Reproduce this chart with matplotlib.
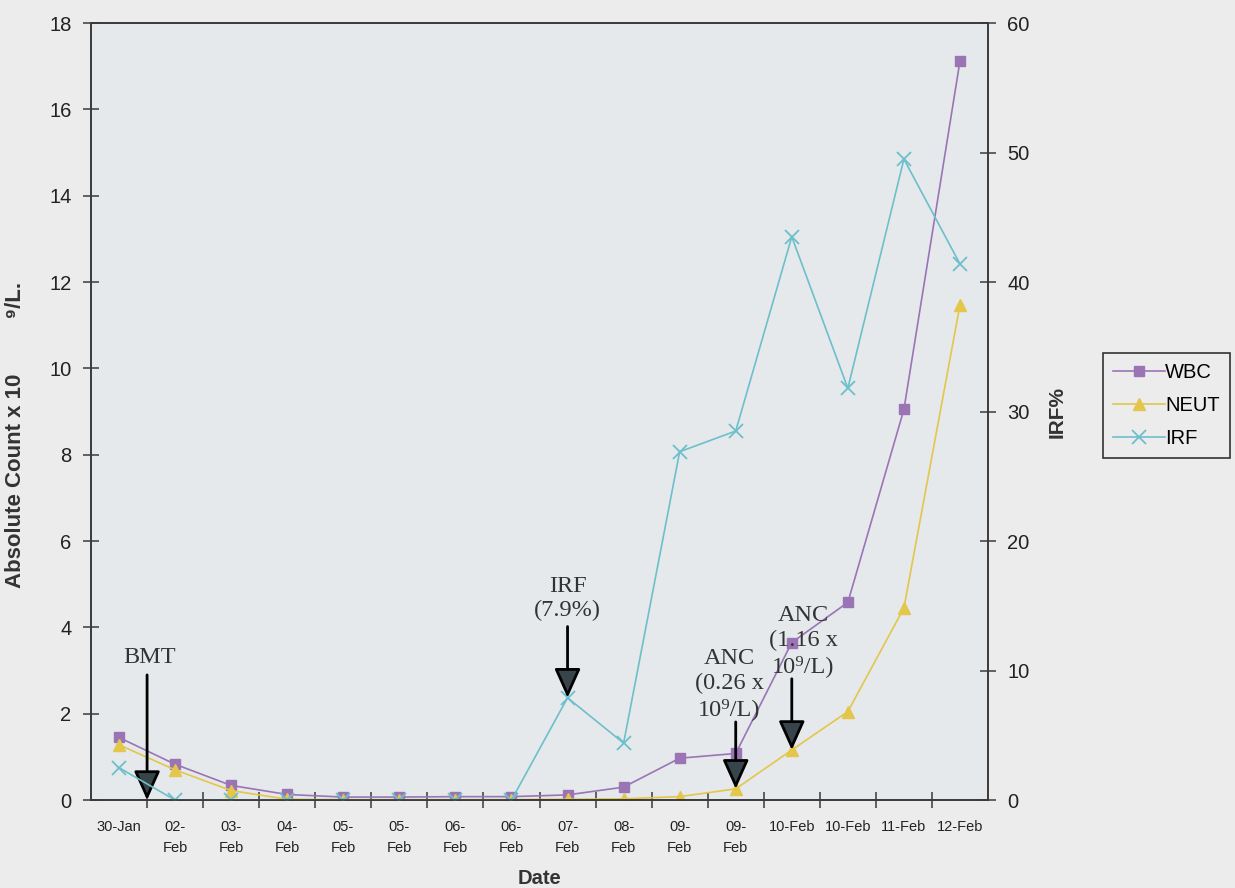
import matplotlib
matplotlib.use("Agg")
import matplotlib.pyplot as plt
import numpy as np

# data
dates = ['30-Jan', '02-\nFeb', '03-\nFeb', '04-\nFeb', '05-\nFeb', '05-\nFeb',
         '06-\nFeb', '06-\nFeb', '07-\nFeb', '08-\nFeb', '09-\nFeb', '09-\nFeb',
         '10-Feb', '10-Feb', '11-Feb', '12-Feb']
wbc = [1.45, 0.83, 0.34, 0.13, 0.07, 0.07, 0.08, 0.08, 0.12, 0.30, 0.97, 1.08,
       3.65, 4.58, 9.05, 17.12]
neut = [1.28, 0.70, 0.22, 0.02, 0.01, 0.01, 0.01, 0.01, 0.02, 0.03, 0.08, 0.26,
        1.16, 2.05, 4.45, 11.47]
irf = [2.5, 0, 0, 0, 0, 0, 0, 0, 7.9, 4.4, 26.9, 28.5, 43.5, 31.8, 49.5, 41.4]

plt.rcParams['font.family'] = ['Liberation Sans', 'DejaVu Sans']
serif = ['Liberation Serif', 'DejaVu Serif']

c_wbc = '#9b74b6'
c_neut = '#e3c64a'
c_irf = '#6cbfcb'
c_axis = '#3a3a3a'

fig = plt.figure(figsize=(12.35, 8.88), dpi=100, facecolor='#ececec')
ax = fig.add_axes([0.0737, 0.099, 0.7263, 0.875], facecolor='#e5e9eb')
ax2 = ax.twinx()

x = np.arange(len(dates))

l1, = ax.plot(x, wbc, color=c_wbc, lw=1.2, marker='s', ms=7, label='WBC')
l2, = ax.plot(x, neut, color=c_neut, lw=1.2, marker='^', ms=8, label='NEUT')
l3, = ax2.plot(x, irf, color=c_irf, lw=1.2, marker='x', ms=10, mew=1.3, label='IRF')

ax.set_xlim(-0.5, len(dates) - 0.5)
ax.set_ylim(0, 18)
ax2.set_ylim(0, 60)
ax.set_yticks(np.arange(0, 19, 2))
ax2.set_yticks(np.arange(0, 61, 10))

# category axis: tick marks between categories, labels at centres
ax.set_xticks(np.arange(0.5, len(dates) - 1, 1.0))
ax.set_xticklabels([])
ax.set_xticks(x, minor=True)
ax.set_xticklabels(dates, minor=True, fontsize=10.5, color='#222222', linespacing=1.7)
ax.tick_params(axis='x', which='major', direction='inout', length=12, width=1.1, color=c_axis)
ax.tick_params(axis='x', which='minor', length=0, pad=14)
ax.tick_params(axis='y', direction='inout', length=12, width=1.1, color=c_axis,
               labelsize=14.5, labelcolor='#222222', pad=8)
ax2.tick_params(axis='y', direction='inout', length=12, width=1.1, color=c_axis,
                labelsize=14.5, labelcolor='#222222', pad=8)

for a in (ax, ax2):
    for s in a.spines.values():
        s.set_color(c_axis)
        s.set_linewidth(1.2)

ax.set_ylabel('Absolute Count x 10         \u2079/L.', fontsize=16, fontweight='bold', color='#333333')
ax.yaxis.set_label_coords(-0.072, 0.47)
ax2.set_ylabel('IRF%', fontsize=15, fontweight='bold', color='#333333')
ax2.yaxis.set_label_coords(1.066, 0.5)
ax.set_xlabel('Date', fontsize=14.5, fontweight='bold', color='#333333', labelpad=10)

# arrows and notes
arrow = dict(arrowstyle='-|>,head_length=1.0,head_width=0.45', mutation_scale=18,
             ec='black', fc='#37444a', lw=2.0, shrinkA=0, shrinkB=0)
txt = dict(family=serif, fontsize=17.5, color='#333333', ha='center', va='bottom',
           linespacing=1.22)

# BMT between 30-Jan and 02-Feb
ax.annotate('', xy=(0.5, 0), xytext=(0.5, 2.9), arrowprops=arrow)
ax.text(0.55, 3.05, 'BMT', **txt)

# IRF 7.9% on 07-Feb
ax2.annotate('', xy=(8, irf[8]), xytext=(8, irf[8] + 5.5), arrowprops=arrow)
ax2.text(8, irf[8] + 5.9, 'IRF\n(7.9%)', **txt)

# ANC 0.26 on second 09-Feb
ax.annotate('', xy=(11, neut[11]), xytext=(11, neut[11] + 1.55), arrowprops=arrow)
ax.text(10.88, neut[11] + 1.6, 'ANC\n(0.26 x\n10\u2079/L)', **txt)

# ANC 1.16 on first 10-Feb
ax.annotate('', xy=(12, neut[12]), xytext=(12, neut[12] + 1.65), arrowprops=arrow)
ax.text(12.2, neut[12] + 1.7, 'ANC\n(1.16 x\n10\u2079/L)', **txt)

leg = fig.legend(handles=[l1, l2, l3], loc='center left', bbox_to_anchor=(0.893, 0.543),
                 fontsize=14.5, frameon=True, fancybox=False, edgecolor='#333333',
                 facecolor='#ececec', framealpha=1, handlelength=2.6,
                 handletextpad=0.0, borderpad=0.5, labelspacing=0.7, borderaxespad=0)
leg.get_frame().set_linewidth(1.2)

fig.savefig('out.png', dpi=100, facecolor=fig.get_facecolor())
